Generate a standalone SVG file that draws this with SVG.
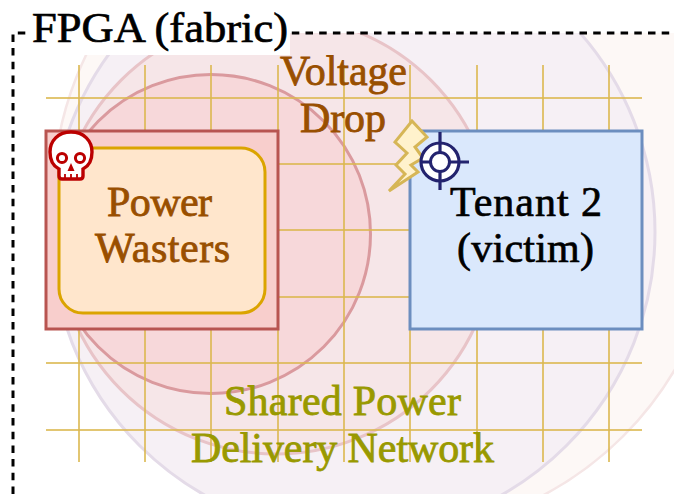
<svg xmlns="http://www.w3.org/2000/svg" width="674" height="494" viewBox="0 0 674 494">
<defs><clipPath id="fr"><rect x="13" y="33" width="661" height="461"/></clipPath></defs>
<style>
text{font-family:"Liberation Serif","Times New Roman",serif;font-size:42px}
.br{fill:#994f00;stroke:#994f00;stroke-width:.8}
.ol{fill:#999900;stroke:#999900;stroke-width:.8}
.bk{fill:#000;stroke:#000;stroke-width:.7}
.grid line{stroke:#dcb850;stroke-width:2;opacity:.8}
</style>
<rect width="674" height="494" fill="#fff"/>
<g id="rings" clip-path="url(#fr)">
<circle cx="387" cy="200" r="334" fill="#fdf8f6" stroke="#f5e6e6" stroke-width="2.5"/>
<circle cx="353" cy="232" r="302" fill="#f6f0f5" stroke="#e4dbe8" stroke-width="3"/>
<circle cx="276" cy="235" r="219" fill="#f6e6e8" stroke="#e8c4c8" stroke-width="3"/>
<circle cx="211" cy="234" r="159.500" fill="#f7d8da" stroke="#da9a9e" stroke-width="3"/>
</g>
<g id="connectors" class="grid">
<line x1="46" y1="98" x2="642" y2="98"/><line x1="46" y1="164" x2="642" y2="164"/><line x1="46" y1="230" x2="642" y2="230"/><line x1="46" y1="297" x2="642" y2="297"/><line x1="46" y1="363" x2="642" y2="363"/><line x1="46" y1="430" x2="642" y2="430"/>
<line x1="79" y1="65" x2="79" y2="462"/><line x1="145" y1="65" x2="145" y2="462"/><line x1="211" y1="65" x2="211" y2="462"/><line x1="278" y1="65" x2="278" y2="462"/><line x1="344" y1="65" x2="344" y2="462"/><line x1="410" y1="65" x2="410" y2="462"/><line x1="477" y1="65" x2="477" y2="462"/><line x1="543" y1="65" x2="543" y2="462"/><line x1="609" y1="65" x2="609" y2="462"/>
</g>
<g id="frame">
<path d="M13 494V33H674" fill="none" stroke="#000" stroke-width="3" stroke-dasharray="7.5 6.2"/>
<rect x="31" y="10" width="259" height="45" fill="#fff"/>
<text class="bk" x="32" y="42" textLength="256" lengthAdjust="spacingAndGlyphs">FPGA (fabric)</text>
</g>
<g id="voltage-drop"><text class="br" x="280" y="85" textLength="127">Voltage</text><text class="br" x="300" y="132" textLength="86">Drop</text></g>
<g id="tenant-1">
<rect x="46" y="131" width="232" height="198" fill="#f8cecc" stroke="#b85450" stroke-width="3"/>
</g>
<g id="power-wasters">
<rect x="59" y="148" width="206" height="165" rx="24" fill="#ffe6cc" stroke="#dba400" stroke-width="3"/>
<text class="br" x="107" y="216" textLength="105">Power</text><text class="br" x="95" y="262" textLength="135">Wasters</text>
</g>
<g id="skull">
<path d="M71 132C58 132 50 141 50 152C50 160 53 166 59 169V176Q59 179 62 179H80Q83 179 83 176V169C89 166 92 160 92 152C92 141 84 132 71 132Z" fill="#fff" stroke="#bb0000" stroke-width="3.4"/>
<circle cx="62" cy="158" r="4.6" fill="#fff" stroke="#bb0000" stroke-width="3"/><circle cx="80" cy="158" r="4.6" fill="#fff" stroke="#bb0000" stroke-width="3"/>
<path d="M71 163L74.5 171H67.500Z" fill="#bb0000"/>
<path d="M65 174V179M71 174V179M77 174V179" stroke="#bb0000" stroke-width="1.800"/>
</g>
<g id="tenant-2">
<rect x="410" y="131" width="232" height="198" fill="#dae8fc" stroke="#6c8ebf" stroke-width="3"/>
<text class="bk" x="450" y="216" textLength="152">Tenant 2</text><text class="bk" x="457" y="262" textLength="137">(victim)</text>
</g>
<g id="lightning"><path d="M412 121L427 137L415 147L423 158L411 165L418 172L389 191L405 174L396 165L407 153L395 142Z" fill="#fff2cc" stroke="#d6b656" stroke-width="3"/></g>
<g id="target" fill="none" stroke="#23236e" stroke-width="3.200">
<circle cx="440" cy="162" r="19" fill="#fff"/>
<circle cx="440" cy="162" r="9.500" fill="#fff" stroke-width="3"/>
<path d="M440 132V152M440 172V190M420 162H430M450 162H469"/>
</g>
<g id="network-label"><text class="ol" x="224" y="415" textLength="237">Shared Power</text><text class="ol" x="191" y="462" textLength="303">Delivery Network</text></g>
</svg>
